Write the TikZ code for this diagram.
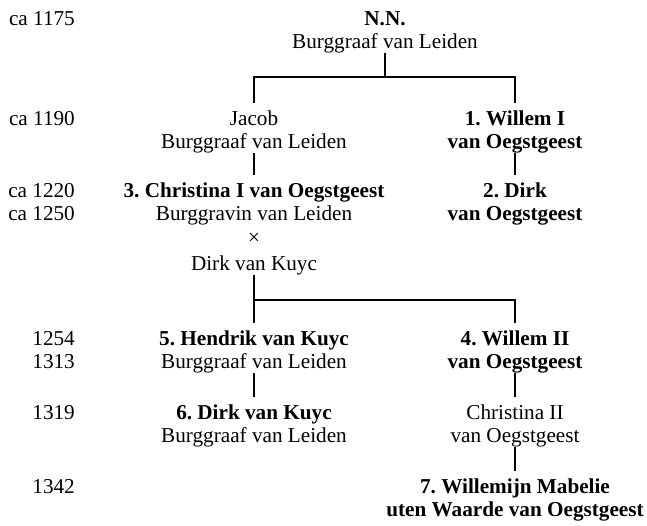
\documentclass[tikz,border=0pt]{standalone}
\usepackage{fontspec}
\setmainfont{Liberation Serif}
\frenchspacing

\tikzset{
  person/.style={align=center,inner sep=0pt,anchor=base,font=\fontsize{21.2}{23.5}\selectfont},
  year/.style={anchor=base east,inner sep=0pt,font=\fontsize{21.2}{23.5}\selectfont},
  link/.style={line width=2pt,shorten >=7.5pt}
}

\begin{document}
\begin{tikzpicture}[line join=miter,x=1pt,y=1pt]
\useasboundingbox (0,0) rectangle (647,-525);
% years
\foreach \n/\y/\t in {a/25/ca 1175,b/125/ca 1190,c/197/ca 1220,d/220.5/ca 1250,
  e/345/1254,f/368.5/1313,g/419/1319,h/493/1342}
  \node (yr\n) [year] at (75,-\y) {\t};
% persons (placed at the baseline of their last line)
\node (nn) [person] at (385,-48.5) {\textbf{N.N.}\\Burggraaf van Leiden};
\node (jacob) [person] at (254,-148.5) {Jacob\\Burggraaf van Leiden};
\node (willem1) [person] at (515,-148.5) {\textbf{1. Willem I}\\\textbf{van Oegstgeest}};
\node (christina1) [person] at (254,-270) {\textbf{3. Christina I van Oegstgeest}\\Burggravin van Leiden\\×\\[2.5pt]Dirk van Kuyc};
\node (dirk2) [person] at (515,-220.5) {\textbf{2. Dirk}\\\textbf{van Oegstgeest}};
\node (hendrik) [person] at (254,-368.5) {\textbf{5. Hendrik van Kuyc}\\Burggraaf van Leiden};
\node (willem2) [person] at (515,-368.5) {\textbf{4. Willem II}\\\textbf{van Oegstgeest}};
\node (dirk6) [person] at (254,-442.5) {\textbf{6. Dirk van Kuyc}\\Burggraaf van Leiden};
\node (christina2) [person] at (515,-442.5) {Christina II\\van Oegstgeest};
\node (willemijn) [person] at (515,-516.5) {\textbf{7. Willemijn Mabelie}\\\textbf{uten Waarde van Oegstgeest}};
% links
\draw [link] (nn.south) -- ++(0,-24) -| (jacob.north);
\draw [link] (nn.south) -- ++(0,-24) -| (willem1.north);
\draw [link] (jacob.south) -- (christina1.north);
\draw [link] (willem1.south) -- (dirk2.north);
\draw [link] (christina1.south) -- (hendrik.north);
\draw [link] (christina1.south) -- ++(0,-25.5) -| (willem2.north);
\draw [link] (hendrik.south) -- (dirk6.north);
\draw [link] (willem2.south) -- (christina2.north);
\draw [link] (christina2.south) -- (willemijn.north);
\end{tikzpicture}
\end{document}
